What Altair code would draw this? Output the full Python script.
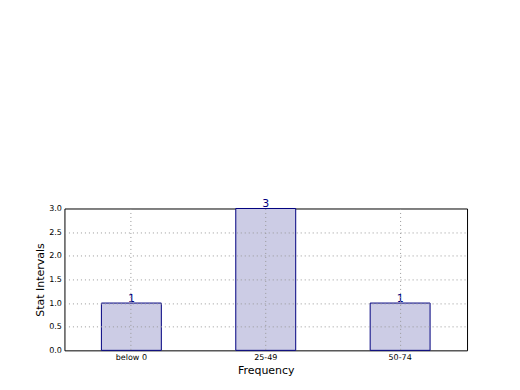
import altair as alt
import pandas as pd

categories = ["below 0", "25-49", "50-74"]
counts = [1, 3, 1]
y_ticks = [0, 0.5, 1, 1.5, 2, 2.5, 3]

df = pd.DataFrame({"cat": categories, "count": counts})

grid_common = dict(gridColor="#999999", gridDash=[1, 3], gridWidth=1, zindex=1)

x_enc = alt.X("cat:N", sort=categories, title="Frequency",
              scale=alt.Scale(paddingInner=0.554, paddingOuter=0.275),
              axis=alt.Axis(labelAngle=0, labelFontSize=8, titleFontSize=11,
                            labelColor="black", titleColor="black",
                            titleFontWeight="normal", grid=True,
                            domain=False, ticks=False,
                            labelPadding=3, titlePadding=3, **grid_common))
y_enc = alt.Y("count:Q", title="Stat Intervals",
              scale=alt.Scale(domain=[0, 3], nice=False),
              axis=alt.Axis(values=y_ticks, format=".1f",
                            labelFontSize=8, titleFontSize=11,
                            labelColor="black", titleColor="black",
                            titleFontWeight="normal", grid=True,
                            gridOpacity={"condition": {"test": "datum.value <= 0 || datum.value >= 3", "value": 0}, "value": 1},
                            domain=False, ticks=False,
                            labelPadding=3, titlePadding=3, **grid_common))

base = alt.Chart(df).encode(x=x_enc, y=y_enc)

bars = base.mark_bar(fill="#ccccE5", stroke="#000080", strokeWidth=1)
labels = base.mark_text(color="#000080", fontSize=11, baseline="bottom", dy=1).encode(text="count:Q")

chart = alt.layer(bars, labels).properties(
    width=403, height=142,
    autosize=alt.AutoSizeParams(type="none"),
    padding={"left": 56.5, "top": 200.5, "right": 45, "bottom": 32},
    background="white",
).configure(font="DejaVu Sans").configure_view(stroke="black", strokeWidth=1)

chart.save("out.html", embed_options={"renderer": "svg", "actions": False})
